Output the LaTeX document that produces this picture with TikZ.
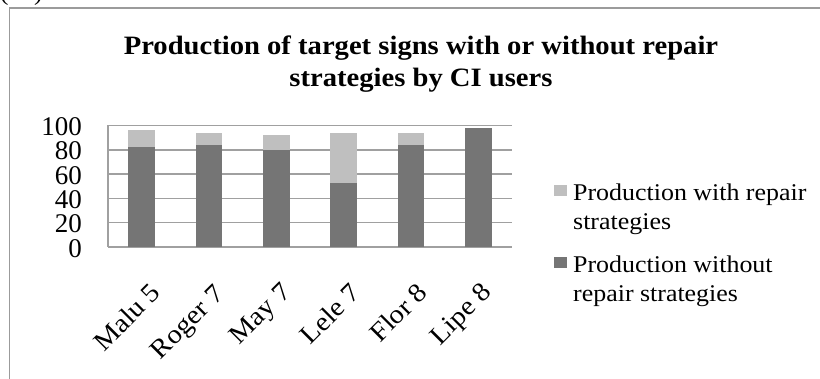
\documentclass[tikz,border=0pt]{standalone}
\usepackage{fontspec}
\setmainfont{Liberation Serif}
\newfontfamily\widefont[FakeStretch=1.08]{Liberation Serif}
\definecolor{barwith}{RGB}{191,191,191}
\definecolor{barwithout}{RGB}{117,117,117}
\definecolor{gridgray}{RGB}{160,160,160}
\definecolor{framegray}{RGB}{155,155,155}
\tikzset{
  axislabel/.style={anchor=east, inner sep=0pt, font=\fontsize{27}{30}\selectfont},
  catlabel/.style={anchor=north east, inner sep=0pt, rotate=45, font=\widefont\fontsize{26.5}{30}\selectfont},
  legendtext/.style={anchor=base west, inner sep=0pt, align=left, font=\widefont\fontsize{24}{29}\selectfont},
  titletext/.style={anchor=base, inner sep=0pt, font=\widefont\bfseries\fontsize{26.5}{32}\selectfont},
}
\begin{document}
\begin{tikzpicture}[x=1pt, y=1pt]
  \useasboundingbox (0,0) rectangle (820,379);

  % Frame
  \draw[framegray, line width=1.5pt] (9.5,-5) -- (9.5,371) -- (830,371);
  \node[anchor=base west, inner sep=0pt, font=\widefont\fontsize{23.5}{28}\selectfont] (fignum) at (0,378) {(12)};

  % Title
  \node[titletext] (title1) at (421,324) {Production of target signs with or without repair};
  \node[titletext] (title2) at (421,292) {strategies by CI users};

  % Chart
  \begin{scope}[shift={(0,132)}, yscale=1.215]

    % Grid
    \begin{scope}[gridgray, line width=1.5pt]
    \draw (108,0) -- (512,0);
    \draw (108,20) -- (512,20);
    \draw (108,40) -- (512,40);
    \draw (108,60) -- (512,60);
    \draw (108,80) -- (512,80);
    \draw (108,100) -- (512,100);
    \draw (108,0) -- (108,100);
    \end{scope}

    \node[axislabel] (y0) at (82,-1) {0};
    \node[axislabel] (y20) at (82,19) {20};
    \node[axislabel] (y40) at (82,39) {40};
    \node[axislabel] (y60) at (82,59) {60};
    \node[axislabel] (y80) at (82,79) {80};
    \node[axislabel] (y100) at (82,99) {100};

    % Without repair
    \fill[barwithout] (128.3,0) rectangle (155.0,82);
    \fill[barwithout] (195.6,0) rectangle (222.3,84);
    \fill[barwithout] (262.9,0) rectangle (289.6,80);
    \fill[barwithout] (330.2,0) rectangle (356.9,53);
    \fill[barwithout] (397.5,0) rectangle (424.2,84);
    \fill[barwithout] (464.8,0) rectangle (491.5,98);

    % With repair
    \fill[barwith] (128.3,82) rectangle (155.0,96);
    \fill[barwith] (195.6,84) rectangle (222.3,94);
    \fill[barwith] (262.9,80) rectangle (289.6,92);
    \fill[barwith] (330.2,53) rectangle (356.9,94);
    \fill[barwith] (397.5,84) rectangle (424.2,94);

  \end{scope}

  % Categories
  \node[catlabel] (malu) at (149,98) {Malu 5};
  \node[catlabel] (roger) at (213,96) {Roger 7};
  \node[catlabel] (may) at (280,98) {May 7};
  \node[catlabel] (lele) at (349,98) {Lele 7};
  \node[catlabel] (flor) at (416,98) {Flor 8};
  \node[catlabel] (lipe) at (480,98) {Lipe 8};

  % Legend
  \fill[barwith] (554,183) rectangle (567,194);
  \node[legendtext] (legwith) at (573,149) {Production with repair\\strategies};
  \fill[barwithout] (554,111) rectangle (567,122);
  \node[legendtext] (legwithout) at (573,77) {Production without\\repair strategies};
\end{tikzpicture}
\end{document}
